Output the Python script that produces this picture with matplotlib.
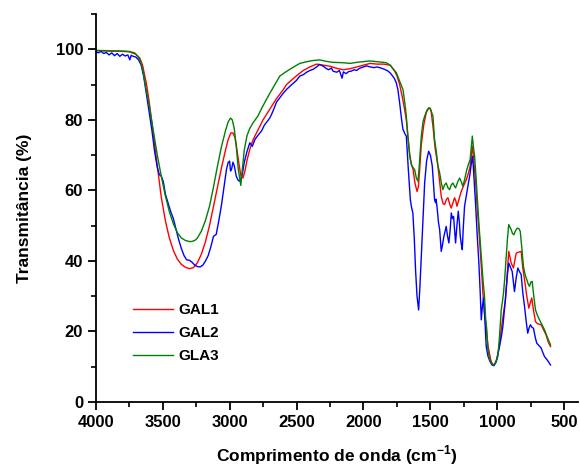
import matplotlib
matplotlib.use("Agg")
import matplotlib.pyplot as plt
from matplotlib.ticker import MultipleLocator

# Espectros FTIR (numero de onda em cm-1, transmitancia em %)
gal1_wn = [4000, 3900, 3800, 3750, 3700, 3670, 3650, 3620, 3600, 3570, 3540, 3510, 3480,
           3450, 3420, 3390, 3360, 3330, 3300, 3270, 3240, 3210, 3180, 3150, 3120, 3090,
           3060, 3030, 3010, 2990, 2975, 2960, 2945, 2930, 2915, 2900, 2885, 2870, 2850,
           2824, 2790, 2750, 2700, 2650, 2600, 2575, 2500, 2450, 2400, 2350, 2300, 2250,
           2200, 2150, 2100, 2050, 2000, 1950, 1900, 1850, 1800, 1770, 1750, 1730, 1710,
           1693, 1680, 1668, 1655, 1643, 1630, 1615, 1600, 1590, 1580, 1568, 1550, 1531,
           1515, 1506, 1495, 1481, 1465, 1444, 1430, 1419, 1405, 1394, 1380, 1369, 1355,
           1344, 1332, 1320, 1310, 1302, 1290, 1270, 1250, 1232, 1215, 1203, 1195, 1187,
           1180, 1170, 1163, 1150, 1133, 1120, 1108, 1095, 1088, 1070, 1050, 1035, 1020,
           1000, 985, 971, 955, 939, 925, 915, 905, 897, 880, 870, 859, 840, 822, 810, 797,
           780, 765, 755, 743, 730, 715, 700, 673, 655, 636, 620, 603]
gal1_t = [99.6, 99.5, 99.4, 99.3, 98.6, 97.5, 95.5, 90, 85, 76, 67, 58, 51.5,
          46.5, 43, 40.5, 39, 38.2, 37.8, 38.1, 39.5, 42, 45.5, 50, 55.5, 61,
          66.5, 71.5, 74.5, 76.3, 76.3, 75, 71.5, 67.5, 64, 63.5, 65.5, 68.5, 71.5,
          74.4, 77, 80, 83, 86, 88.5, 90, 92.5, 94, 95, 95.8, 95.5, 95.2,
          94.6, 94.2, 94.5, 95, 95.5, 96, 95.8, 95.8, 95.5, 94, 92.5, 90, 86.5,
          83, 80, 75.4, 70.5, 67.5, 66, 62, 59.7, 61, 66, 73, 78.5, 82,
          83.2, 83.4, 82.5, 78.2, 72, 66.9, 62, 58.3, 56.2, 56, 57.5, 57.9, 56,
          55, 56.5, 57.9, 57, 55.5, 57, 59.7, 61.5, 63, 65, 66.9, 70, 72.5,
          70, 66, 63, 55, 46, 38.5, 30.9, 25, 22.4, 16, 12, 10.5, 10.8,
          12.5, 16, 20.5, 25, 29, 37, 42.7, 41, 39.4, 38, 40, 42.2, 42.5, 42.7, 38, 34.7,
          30, 26.6, 28, 29.5, 26, 22.8, 22.2, 21.9, 20.5, 19, 17, 15.7]

gal2_wn = [4000, 3980, 3960, 3940, 3920, 3900, 3880, 3860, 3840, 3820, 3800, 3780, 3760,
           3745, 3735, 3720, 3700, 3680, 3660, 3640, 3620, 3600, 3580, 3560, 3540, 3525,
           3510, 3495, 3480, 3460, 3440, 3420, 3400, 3380, 3360, 3340, 3321, 3300, 3280,
           3260, 3240, 3220, 3200, 3180, 3160, 3140, 3120, 3100, 3080, 3060, 3040, 3023,
           3010, 3000, 2993, 2985, 2975, 2965, 2950, 2935, 2923, 2905, 2890, 2870, 2849,
           2830, 2810, 2790, 2762, 2740, 2720, 2700, 2687, 2670, 2650, 2620, 2600, 2575,
           2550, 2520, 2500, 2476, 2450, 2420, 2400, 2377, 2350, 2327, 2300, 2280, 2260,
           2240, 2227, 2200, 2180, 2160, 2150, 2130, 2110, 2092, 2070, 2050, 2030, 2000,
           1978, 1950, 1920, 1900, 1870, 1842, 1820, 1800, 1792, 1770, 1755, 1743, 1730,
           1715, 1705, 1690, 1680, 1665, 1650, 1640, 1631, 1620, 1611, 1600, 1588, 1578,
           1568, 1555, 1543, 1528, 1513, 1500, 1486, 1475, 1469, 1462, 1458, 1451, 1440,
           1431, 1419, 1410, 1399, 1390, 1382, 1372, 1362, 1352, 1344, 1335, 1327, 1320,
           1312, 1302, 1292, 1284, 1277, 1270, 1262, 1255, 1245, 1232, 1220, 1205, 1195,
           1187, 1180, 1170, 1163, 1150, 1138, 1128, 1120, 1112, 1103, 1095, 1083, 1070,
           1055, 1040, 1025, 1010, 997, 984, 970, 959, 945, 934, 925, 915, 905, 889, 880,
           872, 860, 847, 835, 822, 810, 797, 785, 773, 763, 753, 742, 730, 718, 706, 690,
           673, 660, 648, 625, 603]
gal2_t = [99.3, 99.0, 99.4, 98.8, 99.1, 98.4, 99.0, 98.2, 98.8, 98.0, 98.6, 98.1, 98.4,
          97.0, 98.3, 98.0, 97.8, 97, 95.5, 92, 87, 82, 77, 71, 66.5, 64.5,
          64, 62.5, 59, 56.5, 54, 52, 49, 46, 43.5, 41.5, 40.3, 40.2, 39.6,
          38.8, 38.4, 38.3, 38.8, 40, 41.5, 44, 47, 47.5, 51.5, 56, 61.5, 66,
          68, 68.3, 65.5, 66, 68, 67, 64, 62.8, 62.6, 64.5, 68, 71, 73.5,
          72.5, 74.5, 75.5, 76.8, 78.5, 79.5, 80.5, 81.5, 83, 85, 86.5, 87.5, 88.6,
          89.5, 90.5, 91.2, 92.4, 92.8, 93.6, 94.0, 94.3, 95, 95.7, 95.2, 94.6, 94.2,
          94.7, 93.8, 93.5, 94, 91.8, 93.6, 93.1, 93.7, 93.8, 94.2, 94.0, 94.6, 95,
          95.3, 95.0, 94.8, 95.0, 94.7, 94.3, 93.9, 93.3, 92.9, 91.8, 90.5, 88.6, 84.9,
          80, 77.3, 76, 75.4, 66, 57.4, 55, 53.6, 46, 37.5, 30, 26.1, 33,
          41.3, 52, 62.1, 68.5, 71.1, 70, 66.9, 61, 57.4, 56.5, 57.5, 55.5, 51,
          48.9, 42.7, 44.5, 47, 48.5, 49.8, 47, 45.1, 49, 53.6, 52, 52.6, 49,
          45.1, 50, 54.1, 51, 47, 45, 43.2, 49, 55.5, 58.5, 61.2, 64.5, 67.5,
          69.7, 67, 61, 56.4, 47, 39.4, 31, 23.3, 27, 29.5, 24.5, 15.7, 13,
          11.5, 10.5, 10.3, 11.3, 13.5, 15.7, 18.5, 21.4, 27, 31.8, 36, 39.4, 38.5, 37, 34,
          31.3, 35, 38, 37, 36.1, 31, 27.1, 23, 19.5, 21, 21.9, 21.2, 20.9, 18.5, 16.7, 16,
          15.3, 14, 12.9, 11.8, 10.5]

gla3_wn = [4000, 3900, 3800, 3750, 3710, 3690, 3670, 3650, 3630, 3600, 3570, 3540, 3510,
           3480, 3450, 3420, 3390, 3360, 3330, 3300, 3284, 3260, 3240, 3210, 3180, 3150,
           3120, 3090, 3060, 3030, 3010, 2993, 2980, 2965, 2950, 2935, 2920, 2916, 2905,
           2890, 2870, 2850, 2824, 2790, 2750, 2700, 2650, 2625, 2580, 2530, 2476, 2420,
           2380, 2327, 2280, 2230, 2153, 2100, 2050, 2000, 1954, 1900, 1850, 1830, 1800,
           1780, 1755, 1730, 1705, 1690, 1680, 1668, 1655, 1640, 1618, 1605, 1593, 1585,
           1575, 1568, 1555, 1543, 1525, 1511, 1500, 1490, 1481, 1469, 1456, 1444, 1431,
           1418, 1407, 1395, 1382, 1370, 1357, 1345, 1332, 1322, 1312, 1297, 1282, 1270,
           1258, 1245, 1228, 1215, 1203, 1195, 1187, 1178, 1170, 1158, 1146, 1133, 1120,
           1108, 1096, 1088, 1079, 1071, 1060, 1045, 1029, 1015, 1005, 997, 985, 971, 962,
           954, 945, 934, 925, 915, 905, 897, 887, 877, 865, 852, 840, 829, 818, 805, 792,
           780, 770, 760, 750, 740, 728, 715, 700, 685, 665, 648, 625, 603]
gla3_t = [99.7, 99.6, 99.5, 99.4, 99, 98.2, 97, 94.5, 90, 84, 77, 70, 64,
          58.5, 54, 50.5, 48, 46.5, 45.8, 45.5, 45.5, 45.8, 46.5, 48.5, 51.5, 55.5,
          61, 67, 72.5, 77, 79.5, 80.5, 80, 77.5, 72.5, 66, 62.3, 61.4, 66,
          71.5, 75.5, 77.5, 79.2, 81, 84, 87.5, 90.8, 92.4, 93.6, 94.8, 96.0, 96.5,
          96.8, 97, 96.6, 96.3, 96.2, 96.0, 96.3, 96.5, 96.7, 96.5, 96.3, 96.2, 95.5,
          94.5, 93.4, 91, 88.6, 84.5, 81, 75, 69.7, 67, 65.9, 63.5, 62.6, 66,
          71.5, 75.4, 79.5, 81, 82.8, 83.4, 83.2, 82, 81, 74.4, 71, 67, 65,
          62, 60.2, 61.5, 62.1, 60.8, 60.2, 61.5, 62.1, 61.3, 60.7, 62.3, 63.5, 62.5,
          61.2, 63, 65.9, 67.5, 68.8, 72, 75.4, 72, 69.7, 63, 55.5, 48, 41.3,
          35, 29.9, 24, 20.5, 15, 12.5, 11, 10.5, 11, 11.8, 12.9, 18, 26.1, 28.5,
          30.9, 35, 41.3, 46, 50.3, 49.5, 48.9, 47.8, 47.4, 48.5, 49.3, 49.2, 48.4, 44, 38.4, 36,
          34.7, 33.5, 32.8, 34, 34.2, 30, 26.1, 24.5, 23.3, 21.8, 20.5, 18.2, 16.2]

plt.rcParams['font.family'] = ['Liberation Sans', 'DejaVu Sans']
plt.rcParams['font.weight'] = 'bold'
plt.rcParams['mathtext.fontset'] = 'custom'
plt.rcParams['mathtext.rm'] = 'Liberation Sans:bold'
plt.rcParams['mathtext.bf'] = 'Liberation Sans:bold'

fig = plt.figure(figsize=(5.8, 4.66), dpi=100)
ax = fig.add_axes([0.165, 0.1373, 0.831, 0.8326])

ax.plot(gal1_wn, gal1_t, color='red', lw=1.0, label='GAL1')
ax.plot(gal2_wn, gal2_t, color='blue', lw=1.0, label='GAL2')
ax.plot(gla3_wn, gla3_t, color='green', lw=1.0, label='GLA3')

ax.set_xlim(4000, 400)
ax.set_ylim(0, 110)
ax.xaxis.set_major_locator(MultipleLocator(500))
ax.xaxis.set_minor_locator(MultipleLocator(250))
ax.yaxis.set_major_locator(MultipleLocator(20))
ax.yaxis.set_minor_locator(MultipleLocator(10))

for side in ['top', 'right']:
    ax.spines[side].set_visible(False)
for side in ['left', 'bottom']:
    ax.spines[side].set_linewidth(1.3)

ax.tick_params(which='major', direction='out', length=6, width=1.3, labelsize=12, pad=3)
ax.tick_params(which='minor', direction='out', length=3.5, width=1.2)
for lbl in ax.get_xticklabels() + ax.get_yticklabels():
    lbl.set_fontweight('bold')

ax.set_xlabel('Comprimento de onda (cm$^{\\mathbf{-1}}$)', fontsize=12.5, fontweight='bold', labelpad=10)
ax.set_ylabel('Transmitância (%)', fontsize=12.5, fontweight='bold', labelpad=17)

leg = ax.legend(loc='lower left', bbox_to_anchor=(0.077, 0.1), frameon=False,
                fontsize=11, handlelength=2.6, handletextpad=0.4, borderpad=0,
                borderaxespad=0, labelspacing=0.6)
for t in leg.get_texts():
    t.set_fontweight('bold')

fig.savefig('out.png', dpi=100)
